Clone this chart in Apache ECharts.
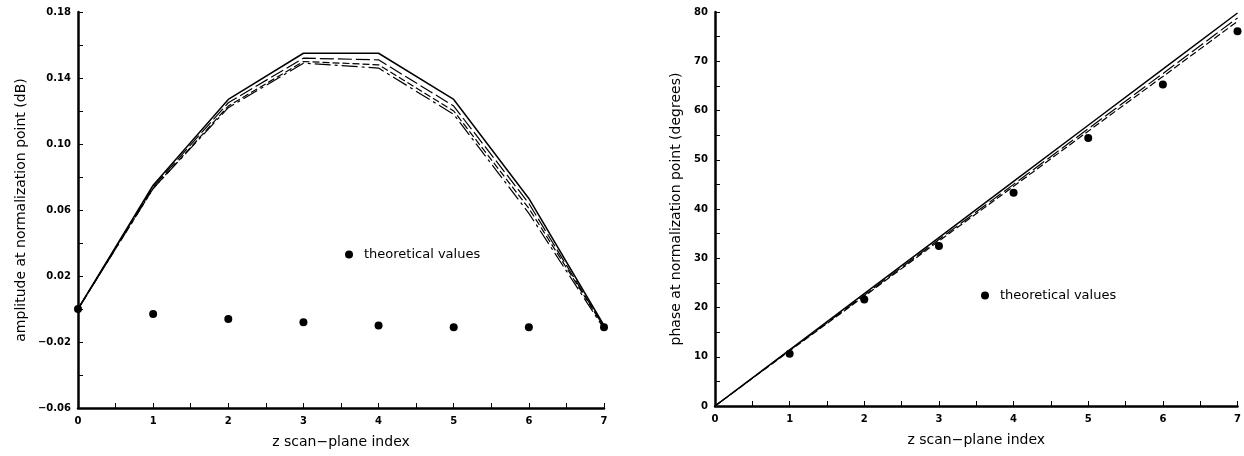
<!DOCTYPE html>
<html>
<head>
<meta charset="utf-8"/>
<title>normalization point</title>
<script src="https://cdn.jsdelivr.net/npm/echarts@6/dist/echarts.min.js"></script>
<style>
	html,body{margin:0;padding:0;background:#fff;}
</style>
</head>
	<body>
		<div id="Echarts" style="width: 1244px;height: 456px;"></div>
	</body>
	<script>
		// z scan-plane index
		var zIndex = [0, 1, 2, 3, 4, 5, 6, 7];

		// left: amplitude (dB)
		var ampSolid  = [0.000, 0.075, 0.127, 0.155, 0.155, 0.127, 0.067, -0.010];
		var ampDash1  = [0.000, 0.074, 0.125, 0.152, 0.151, 0.123, 0.064, -0.011];
		var ampDash2  = [0.000, 0.073, 0.123, 0.150, 0.148, 0.120, 0.061, -0.011];
		var ampDash3  = [0.000, 0.073, 0.122, 0.149, 0.146, 0.118, 0.058, -0.012];
		var ampTheory = [0.000, -0.003, -0.006, -0.008, -0.010, -0.011, -0.011, -0.011];
		var ampLabels = [-0.06, -0.02, 0.02, 0.06, 0.10, 0.14, 0.18];

		// right: phase (degrees)
		var phaseSolid  = [0, 11.4, 22.8, 34.2, 45.6, 57.0, 68.4, 79.8];
		var phaseDash1  = [0, 11.3, 22.5, 33.8, 45.0, 56.3, 67.5, 78.8];
		var phaseDash2  = [0, 11.2, 22.3, 33.5, 44.6, 55.8, 66.9, 78.1];
		var phaseTheory = [null, 10.6, 21.6, 32.5, 43.3, 54.4, 65.3, 76.1];
		var phaseLabels = [0, 10, 20, 30, 40, 50, 60, 70, 80];

		var xLabels = [0, 1, 2, 3, 4, 5, 6, 7];

		function pairs(ys){
			var out = [];
			for(var i=0;i<zIndex.length;i++){
				if(ys[i] !== null) out.push([zIndex[i], ys[i]]);
			}
			return out;
		}
		function hasLabel(list, v){
			for(var i=0;i<list.length;i++){
				if(Math.abs(list[i]-v) < 1e-9) return true;
			}
			return false;
		}

		var font = 'DejaVu Sans';

		function xAxisOf(gridIndex){
			return {
				gridIndex: gridIndex,
				type: 'value',
				min: 0, max: 7, interval: 0.5,
				name: 'z scan\u2212plane index',
				nameLocation: 'middle',
				nameGap: 27,
				nameTextStyle: {color:'#000', fontFamily:font, fontSize:14},
				axisLine: {show:true, onZero:false, lineStyle:{color:'#000', width:2.5}},
				axisTick: {show:true, inside:true, length:5, lineStyle:{color:'#000', width:1}},
				splitLine: {show:false},
				axisLabel: {
					margin: 8,
					formatter: function(v){ return hasLabel(xLabels, v) ? String(v) : ''; },
					color:'#000', fontFamily:font, fontSize:10, fontWeight:'bold'
				}
			};
		}

		function line(name, xi, data, dash, w){
			return {
				name: name, type: 'line', xAxisIndex: xi, yAxisIndex: xi,
				data: data, symbol: 'none', silent: true,
				lineStyle: {color:'#000', width: w, type: dash}
			};
		}

		var myChart = echarts.init(document.getElementById('Echarts'));
		myChart.setOption({
			backgroundColor: '#fff',
			animation: false,
			grid: [
				{left: 78, right: 640, top: 12, bottom: 48},
				{left: 715, right: 5, top: 12, bottom: 50}
			],
			legend: [
				{
					data: [{name:'theoretical values', icon:'circle', itemStyle:{color:'#000', opacity:1}}],
					left: 340, top: 243,
					itemWidth: 8, itemHeight: 8,
					selectedMode: false,
					textStyle: {color:'#000', fontFamily:font, fontSize:13, padding:[0,0,0,6]}
				},
				{
					data: [{name:'theoretical values', icon:'circle', itemStyle:{color:'#000', opacity:1}}],
					left: 976, top: 284,
					itemWidth: 8, itemHeight: 8,
					selectedMode: false,
					textStyle: {color:'#000', fontFamily:font, fontSize:13, padding:[0,0,0,6]}
				}
			],
			xAxis: [xAxisOf(0), xAxisOf(1)],
			yAxis: [
				{
					gridIndex: 0,
					type: 'value',
					min: -0.06, max: 0.18, interval: 0.02,
					name: 'amplitude at normalization point (dB)',
					nameLocation: 'middle',
					nameGap: 50,
					nameTextStyle: {color:'#000', fontFamily:font, fontSize:14},
					axisLine: {show:true, onZero:false, lineStyle:{color:'#000', width:2.5}},
					axisTick: {show:true, inside:true, length:5, lineStyle:{color:'#000', width:1}},
					splitLine: {show:false},
					axisLabel: {
						margin: 7,
						formatter: function(v){
							if(!hasLabel(ampLabels, v)) return '';
							var s = Math.abs(v).toFixed(2);
							return v < -1e-9 ? '\u2212' + s : s;
						},
						color:'#000', fontFamily:font, fontSize:10, fontWeight:'bold'
					}
				},
				{
					gridIndex: 1,
					type: 'value',
					min: 0, max: 80, interval: 5,
					name: 'phase at normalization point (degrees)',
					nameLocation: 'middle',
					nameGap: 32,
					nameTextStyle: {color:'#000', fontFamily:font, fontSize:14},
					axisLine: {show:true, onZero:false, lineStyle:{color:'#000', width:2.5}},
					axisTick: {show:true, inside:true, length:5, lineStyle:{color:'#000', width:1}},
					splitLine: {show:false},
					axisLabel: {
						margin: 7,
						formatter: function(v){ return hasLabel(phaseLabels, v) ? String(v) : ''; },
						color:'#000', fontFamily:font, fontSize:10, fontWeight:'bold'
					}
				}
			],
			series: [
				line('measured', 0, pairs(ampSolid), 'solid', 1.5),
				line('measured 2', 0, pairs(ampDash1), [14, 4], 1.2),
				line('measured 3', 0, pairs(ampDash2), [7, 3], 1.2),
				line('measured 4', 0, pairs(ampDash3), [16, 4, 3, 4], 1.2),
				{
					name: 'theoretical values', type: 'scatter', xAxisIndex: 0, yAxisIndex: 0,
					data: pairs(ampTheory), symbol: 'circle', symbolSize: 8, clip: false,
					itemStyle: {color:'#000', opacity:1}
				},
				line('phase', 1, pairs(phaseSolid), 'solid', 1.5),
				line('phase 2', 1, pairs(phaseDash1), [14, 4], 1.2),
				line('phase 3', 1, pairs(phaseDash2), [7, 3], 1.2),
				{
					name: 'theoretical values', type: 'scatter', xAxisIndex: 1, yAxisIndex: 1,
					data: pairs(phaseTheory), symbol: 'circle', symbolSize: 8, clip: false,
					itemStyle: {color:'#000', opacity:1}
				}
			]
		});
	</script>
</html>
